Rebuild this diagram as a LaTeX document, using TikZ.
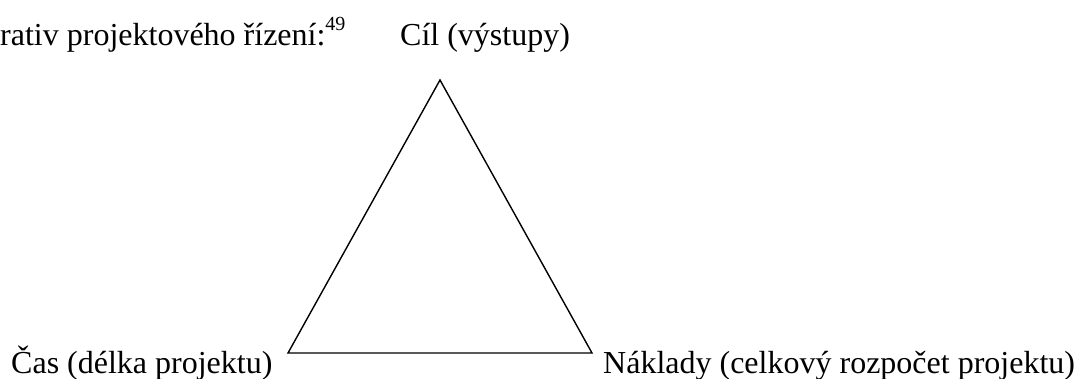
\documentclass[tikz,border=0pt]{standalone}
\usepackage{fontspec}
\setmainfont{Liberation Serif}
\begin{document}
\begin{tikzpicture}[x=1pt,y=-1pt,
  lbl/.style={inner sep=0pt,anchor=base west,font=\fontsize{32}{38}\selectfont},
  edge/.style={line width=1.4pt,line join=miter}]
\useasboundingbox (0,0) rectangle (1083,378);
\node[lbl] (intro) at (0,45) {rativ projektového řízení:\raisebox{0.45em}{\fontsize{20}{24}\selectfont 49}};
\node[lbl] (cil) at (400,45) {Cíl (výstupy)};
\node[lbl] (cas) at (11,373) {Čas (délka projektu)};
\node[lbl] (nak) at (603,373) {Náklady (celkový rozpočet projektu)};
\coordinate (A) at (440,80);
\coordinate (B) at (288,353);
\coordinate (C) at (592,353);
\draw[edge] (A) -- (B) -- (C) -- cycle;
\end{tikzpicture}
\end{document}
